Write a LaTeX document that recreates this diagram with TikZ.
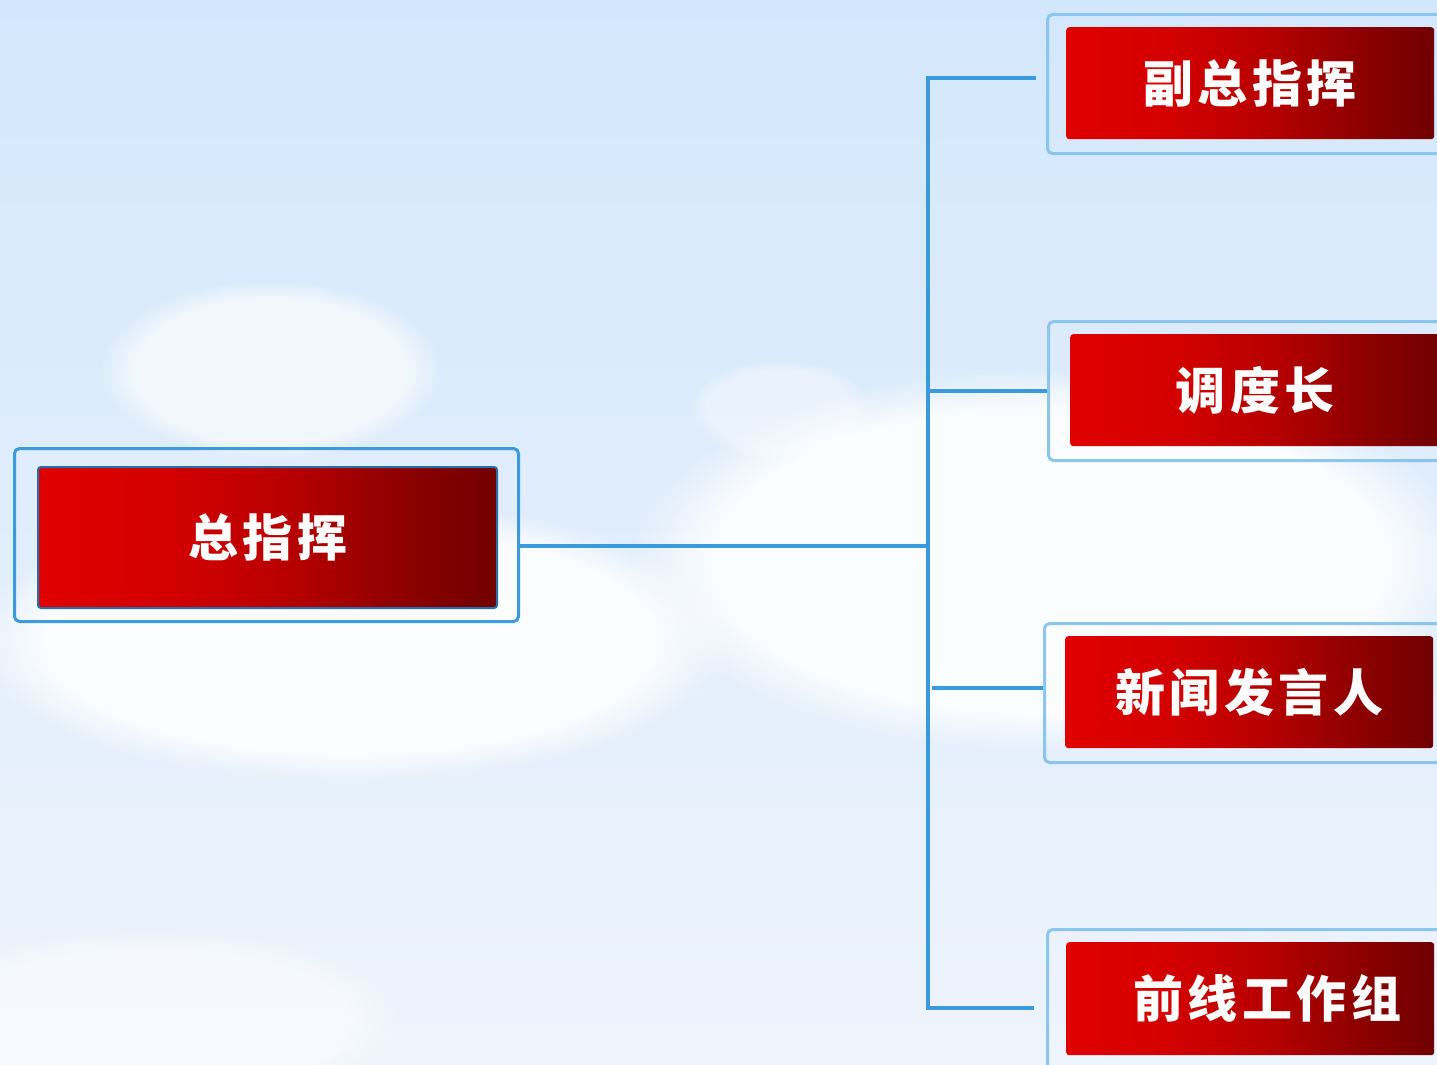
\documentclass[tikz,border=0pt]{standalone}
\usepackage{fontspec}
\newfontfamily\cjk{Noto Sans CJK SC}[LetterSpace=9]
\usetikzlibrary{fadings}
\definecolor{skytop}{HTML}{D3E7FC}
\definecolor{skymid}{HTML}{FBFCFE}
\definecolor{skybot}{HTML}{EEF4FC}
\definecolor{connc}{HTML}{3A9ADB}
\definecolor{outerc}{HTML}{3C9BDB}
\definecolor{outerlc}{HTML}{8CC6EE}
\definecolor{innerbd}{HTML}{2A6EA8}
\definecolor{redA}{HTML}{E00000}
\definecolor{redB}{HTML}{D20000}
\definecolor{redC}{HTML}{B50000}
\definecolor{redD}{HTML}{930000}
\definecolor{redE}{HTML}{700000}
\pgfdeclarehorizontalshading{redgrad}{100bp}{color(0bp)=(redA); color(25bp)=(redA); color(40bp)=(redB); color(53bp)=(redC); color(63bp)=(redD); color(75bp)=(redE); color(100bp)=(redE)}
\tikzset{
  conn/.style={draw=connc, line width=3.5pt},
  outerbox/.style={draw=outerlc, line width=3pt, rounded corners=5pt, anchor=north west, inner sep=0pt},
  redbox/.style={shading=redgrad, rounded corners=3pt,
     anchor=north west, inner sep=0pt, text=white,
     font=\cjk\bfseries\fontsize{50}{56}\selectfont},
  cloud/.style={fill=white, path fading=circle with fuzzy edge 20 percent}
}
\begin{document}
\begin{tikzpicture}[x=1pt,y=-1pt]
\useasboundingbox (0,0) rectangle (1437,1065);
\clip (0,0) rectangle (1437,1065);
% background sky
\fill[top color=skytop, middle color=skymid, bottom color=skybot] (0,0) rectangle (1437,1065);
% soft clouds
\fill[cloud, fill opacity=0.6] (270,370) ellipse (170 and 90);
\fill[cloud, fill opacity=0.4] (780,410) ellipse (90 and 50);
\fill[cloud, fill opacity=0.85] (1050,560) ellipse (420 and 190);
\fill[cloud, fill opacity=0.85] (350,640) ellipse (380 and 140);
\fill[cloud, fill opacity=0.5] (150,1020) ellipse (250 and 90);

% main node
\node[outerbox, draw=outerc, minimum width=504pt, minimum height=173pt] (mainO) at (13,447) {};
\node[redbox, draw=innerbd, line width=2pt, minimum width=459pt, minimum height=141pt] (main) at (37,466) {总指挥};

% right nodes
\node[outerbox, minimum width=414pt, minimum height=139pt] (o1) at (1046,13) {};
\node[redbox, minimum width=368pt, minimum height=112pt] (n1) at (1066,27) {副总指挥};

\node[outerbox, minimum width=414pt, minimum height=139pt] (o2) at (1047,320) {};
\node[redbox, minimum width=370pt, minimum height=112pt] (n2) at (1070,334) {调度长};

\node[outerbox, minimum width=414pt, minimum height=139pt] (o3) at (1043,622) {};
\node[redbox, minimum width=368pt, minimum height=112pt] (n3) at (1065,636) {新闻发言人};

\node[outerbox, minimum width=414pt, minimum height=160pt] (o4) at (1046,928) {};
\node[redbox, minimum width=368pt, minimum height=113pt] (n4) at (1066,942) {\hspace*{34pt}前线工作组};

% connectors
\coordinate (sTop) at (928,78);
\coordinate (sBot) at (928,1008);
\coordinate (sJ) at (928,546);
\coordinate (b1) at (1036,78);
\coordinate (b3) at (932,688);
\coordinate (b4) at (1034,1008);
\draw[conn] (b1) -- (sTop) -- (sBot) -- (b4);
\draw[conn] (mainO.east |- sJ) -- (sJ);
\draw[conn] (sTop |- o2.west) -- (o2.west);
\draw[conn] (b3) -- (b3 -| o3.west);
\end{tikzpicture}
\end{document}
